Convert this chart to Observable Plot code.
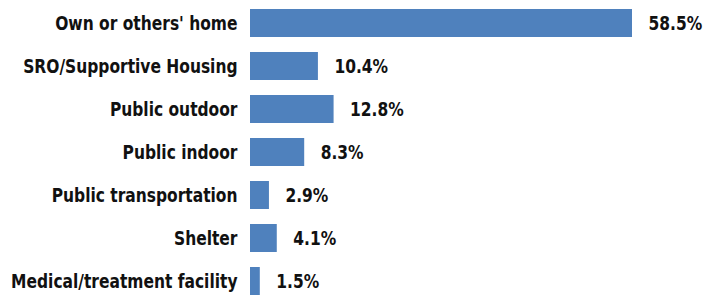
<!DOCTYPE html>
<html>
<head>
<meta charset="utf-8">
<script src="https://cdn.jsdelivr.net/npm/d3@7"></script>
<script src="https://cdn.jsdelivr.net/npm/@observablehq/plot@0.6"></script>
<style>
  html, body { margin: 0; padding: 0; background: #fff; overflow: hidden; }
  svg { display: block; }
  svg text { font-stretch: condensed; }
</style>
</head>
<body>
<div id="chart"></div>
<script>
const categories = [
  "Own or others' home",
  "SRO/Supportive Housing",
  "Public outdoor",
  "Public indoor",
  "Public transportation",
  "Shelter",
  "Medical/treatment facility"
];
const values = [58.5, 10.4, 12.8, 8.3, 2.9, 4.1, 1.5];
const valueLabels = ["58.5%", "10.4%", "12.8%", "8.3%", "2.9%", "4.1%", "1.5%"];

const data = categories.map((c, i) => ({category: c, value: values[i], label: valueLabels[i]}));
const font = "'DejaVu Sans Condensed', 'DejaVu Sans', sans-serif";

const chart = Plot.plot({
  width: 711,
  height: 296,
  marginLeft: 250,
  marginRight: 79,
  marginTop: 9,
  marginBottom: 0,
  style: {fontFamily: font, background: "#fff"},
  x: {domain: [0, 58.5], axis: null},
  y: {domain: categories, axis: null, paddingInner: 0.34, paddingOuter: 0},
  marks: [
    Plot.barX(data, {y: "category", x: "value", fill: "#4f81bd"}),
    Plot.text(data, {y: "category", x: 0, text: "category", textAnchor: "end", dx: -13,
      fontSize: 20, fontWeight: "bold", fill: "#111", fontFamily: font}),
    Plot.text(data, {y: "category", x: "value", text: "label", textAnchor: "start", dx: 16,
      fontSize: 20, fontWeight: "bold", fill: "#111", fontFamily: font})
  ]
});
document.getElementById("chart").appendChild(chart);
// narrow the glyphs to mimic the condensed typeface of the reference
chart.querySelectorAll("text").forEach(t => {
  const len = t.getComputedTextLength();
  t.setAttribute("textLength", (len * 0.86).toFixed(1));
  t.setAttribute("lengthAdjust", "spacingAndGlyphs");
});
</script>
</body>
</html>
